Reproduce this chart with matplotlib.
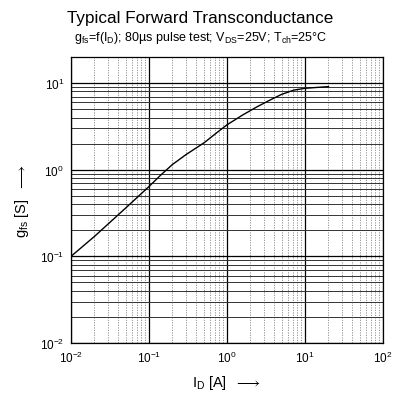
import numpy as np
import matplotlib.pyplot as plt
from matplotlib.ticker import LogLocator, NullFormatter

plt.rcParams['font.family'] = ['Liberation Sans', 'DejaVu Sans']
plt.rcParams['mathtext.default'] = 'regular'

# gfs vs ID
i_d = [0.01, 0.02, 0.05, 0.1, 0.14, 0.2, 0.3, 0.51, 0.75, 1.0, 1.6, 2.5, 3.6, 5.0, 7.2, 10.0, 14.0, 20.0]
g_fs = [0.1, 0.17, 0.36, 0.64, 0.86, 1.15, 1.5, 2.05, 2.7, 3.3, 4.3, 5.4, 6.4, 7.4, 8.3, 8.7, 8.9, 9.1]

fig = plt.figure(figsize=(4.01, 4.02), dpi=100)
ax = fig.add_axes([71/401, 58/402, 312/401, 286/402])
ax.set_xscale('log')
ax.set_yscale('log')
ax.plot(i_d, g_fs, color='black', lw=1.0)
ax.set_xlim(0.01, 100)
ax.set_ylim(0.01, 20)

ax.xaxis.set_major_locator(LogLocator(base=10, numticks=10))
ax.yaxis.set_major_locator(LogLocator(base=10, numticks=10))
ax.xaxis.set_minor_locator(LogLocator(base=10, subs=np.arange(2, 10), numticks=20))
ax.yaxis.set_minor_locator(LogLocator(base=10, subs=np.arange(2, 10), numticks=20))
ax.xaxis.set_minor_formatter(NullFormatter())
ax.yaxis.set_minor_formatter(NullFormatter())

ax.grid(True, which='major', axis='both', color='black', lw=0.9)
ax.grid(True, which='minor', axis='y', color='#333333', lw=0.7)
ax.grid(True, which='minor', axis='x', color='#888888', lw=0.6, ls=(0, (1.5, 1.5)))
ax.tick_params(which='both', length=0, labelsize=8.5, pad=5)
for s in ax.spines.values():
    s.set_linewidth(0.9)

fig.text(0.5, 0.955, 'Typical Forward Transconductance', ha='center', va='center', fontsize=12.3)
fig.text(0.5, 0.905, r'g$_{fs}$=f(I$_D$); 80µs pulse test; V$_{DS}$=25V; T$_{ch}$=25°C',
         ha='center', va='center', fontsize=9)
ax.set_xlabel(r'I$_D$ [A]  $\longrightarrow$', fontsize=10.5, labelpad=6)
ax.set_ylabel(r'g$_{fs}$ [S]  $\longrightarrow$', fontsize=10.5, labelpad=6)

fig.savefig('out.png', dpi=100)
